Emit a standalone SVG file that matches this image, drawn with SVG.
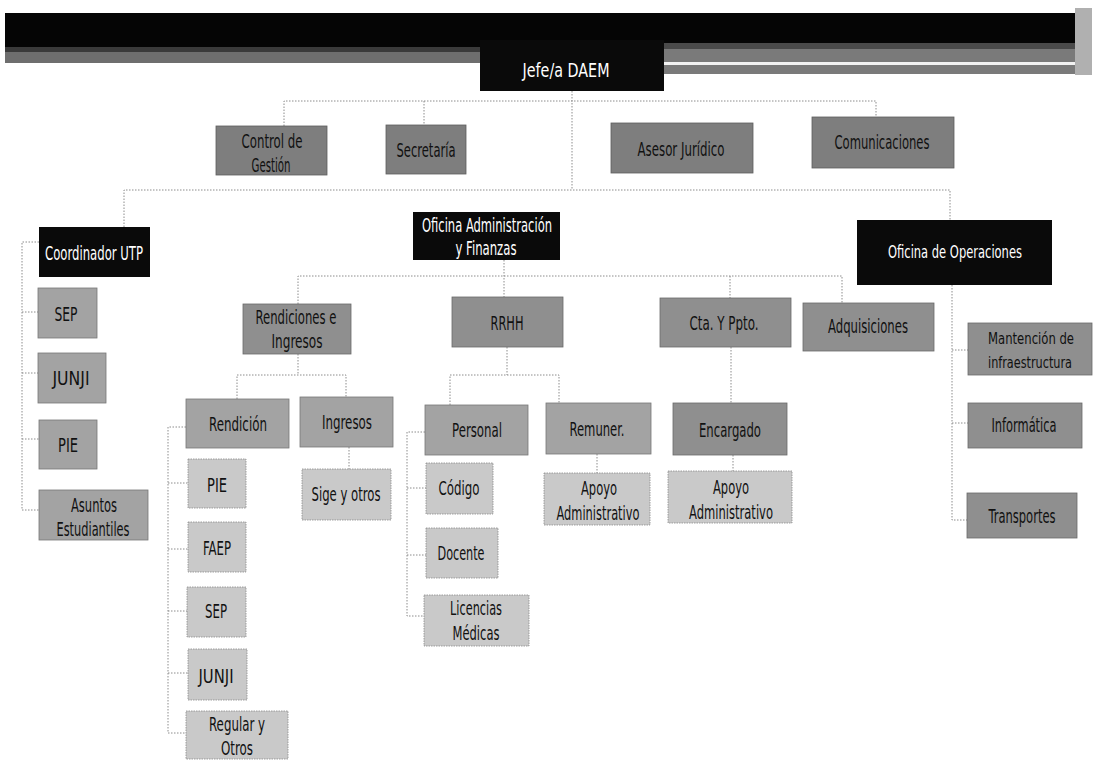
<svg xmlns="http://www.w3.org/2000/svg" width="1094" height="760" viewBox="0 0 1094 760">
<style>
text{font-family:"DejaVu Sans Condensed","Liberation Sans Narrow","Liberation Sans",sans-serif;font-size:20px;text-anchor:middle}
.k{fill:#0a0a0a}
.kt{fill:#ffffff}
.t{fill:#111111}
.s17{font-size:17px}
.s16{font-size:16px}
.g1{fill:#7e7e7e;stroke:#5e5e5e;stroke-width:0.8}
.g2{fill:#8f8f8f;stroke:#6a6a6a;stroke-width:0.8}
.g3{fill:#a3a3a3;stroke:#777;stroke-width:0.8}
.g4{fill:#c9c9c9;stroke:#8a8a8a;stroke-width:0.8;stroke-dasharray:1.5 1}
#connectors path{fill:none;stroke:#8c8c8c;stroke-width:1;stroke-dasharray:1.5 1.5}
</style>
<rect width="1094" height="760" fill="#ffffff"/>
<g id="banner">
<rect x="5" y="13" width="1087" height="37" fill="#050505"/>
<rect x="5" y="47" width="475" height="16" fill="#6e6e6e"/>
<rect x="5" y="47" width="475" height="5" fill="#3a3a3a"/>
<rect x="664" y="43" width="411" height="31" fill="#7a7a7a"/>
<rect x="664" y="43" width="411" height="6" fill="#4a4a4a"/>
<rect x="664" y="62" width="411" height="3" fill="#f2f2f2"/>
<rect x="1075" y="8" width="17" height="67" fill="#b0b0b0"/>
</g>
<g id="connectors">
<path d="M572 91V190"/>
<path d="M284 126V101H876V117"/>
<path d="M424 101V125"/>
<path d="M124 227V190H950V220"/>
<path d="M39 242H22V510H39M22 312H38M22 373H38M22 439H39"/>
<path d="M504 260V297"/>
<path d="M298 304V276H842V303M730 276V298"/>
<path d="M298 354V375M237 399V375H346V397"/>
<path d="M186 427H168V733H186M168 483H188M168 549H188M168 611H187M168 673H188"/>
<path d="M349 447V469"/>
<path d="M507 347V375M450 405V375H559V403"/>
<path d="M425 432H407V616H424M407 488H426M407 555H426"/>
<path d="M597 454V473"/>
<path d="M731 347V403"/>
<path d="M733 455V471"/>
<path d="M952 285V520H967M952 350H968M952 423H968"/>
</g>
<g id="n-jefe"><rect class="k" x="480" y="40" width="184" height="51"/><text class="kt" x="566" y="77" textLength="87" lengthAdjust="spacingAndGlyphs">Jefe/a DAEM</text></g>
<g id="n-control"><rect class="g1" x="216" y="126" width="111" height="49"/><text class="t" x="272" y="148" textLength="61" lengthAdjust="spacingAndGlyphs">Control de</text><text class="t" x="271" y="172" textLength="39" lengthAdjust="spacingAndGlyphs">Gestión</text></g>
<g id="n-secretaria"><rect class="g1" x="386" y="125" width="80" height="49"/><text class="t" x="426" y="157" textLength="59" lengthAdjust="spacingAndGlyphs">Secretaría</text></g>
<g id="n-asesor"><rect class="g1" x="611" y="123" width="142" height="50"/><text class="t" x="681" y="156" textLength="87" lengthAdjust="spacingAndGlyphs">Asesor Jurídico</text></g>
<g id="n-comunicaciones"><rect class="g1" x="812" y="117" width="142" height="51"/><text class="t" x="882" y="149" textLength="95" lengthAdjust="spacingAndGlyphs">Comunicaciones</text></g>
<g id="n-coordinador"><rect class="k" x="39" y="227" width="111" height="50"/><text class="kt" x="94" y="260" textLength="98" lengthAdjust="spacingAndGlyphs">Coordinador UTP</text></g>
<g id="n-sep-utp"><rect class="g3" x="38" y="288" width="59" height="50"/><text class="t" x="66" y="321" textLength="23" lengthAdjust="spacingAndGlyphs">SEP</text></g>
<g id="n-junji-utp"><rect class="g3" x="38" y="353" width="68" height="50"/><text class="t" x="71" y="385" textLength="37" lengthAdjust="spacingAndGlyphs">JUNJI</text></g>
<g id="n-pie-utp"><rect class="g3" x="39" y="420" width="58" height="49"/><text class="t" x="68" y="452" textLength="20" lengthAdjust="spacingAndGlyphs">PIE</text></g>
<g id="n-asuntos"><rect class="g3" x="39" y="490" width="109" height="50"/><text class="t" x="94" y="512" textLength="46" lengthAdjust="spacingAndGlyphs">Asuntos</text><text class="t" x="93" y="536" textLength="73" lengthAdjust="spacingAndGlyphs">Estudiantiles</text></g>
<g id="n-admin"><rect class="k" x="413" y="212" width="147" height="48"/><text class="kt" x="487" y="232" textLength="130" lengthAdjust="spacingAndGlyphs">Oficina Administración</text><text class="kt" x="486" y="255" textLength="61" lengthAdjust="spacingAndGlyphs">y Finanzas</text></g>
<g id="n-operaciones"><rect class="k" x="857" y="220" width="195" height="65"/><text class="kt s17" x="955" y="258" textLength="134" lengthAdjust="spacingAndGlyphs">Oficina de Operaciones</text></g>
<g id="n-rendiciones"><rect class="g2" x="243" y="304" width="108" height="50"/><text class="t" x="296" y="324" textLength="81" lengthAdjust="spacingAndGlyphs">Rendiciones e</text><text class="t" x="297" y="348" textLength="51" lengthAdjust="spacingAndGlyphs">Ingresos</text></g>
<g id="n-rrhh"><rect class="g2" x="452" y="297" width="111" height="50"/><text class="t" x="507" y="330" textLength="33" lengthAdjust="spacingAndGlyphs">RRHH</text></g>
<g id="n-cta"><rect class="g2" x="660" y="298" width="131" height="49"/><text class="t" x="724" y="330" textLength="69" lengthAdjust="spacingAndGlyphs">Cta. Y Ppto.</text></g>
<g id="n-adquisiciones"><rect class="g2" x="803" y="303" width="131" height="48"/><text class="t" x="868" y="333" textLength="80" lengthAdjust="spacingAndGlyphs">Adquisiciones</text></g>
<g id="n-mantencion"><rect class="g2" x="968" y="323" width="124" height="52"/><text class="t s16" x="1031" y="344" textLength="86" lengthAdjust="spacingAndGlyphs">Mantención de</text><text class="t s16" x="1030" y="368" textLength="84" lengthAdjust="spacingAndGlyphs">infraestructura</text></g>
<g id="n-informatica"><rect class="g2" x="968" y="403" width="114" height="45"/><text class="t" x="1024" y="432" textLength="65" lengthAdjust="spacingAndGlyphs">Informática</text></g>
<g id="n-transportes"><rect class="g2" x="967" y="493" width="110" height="45"/><text class="t" x="1022" y="523" textLength="67" lengthAdjust="spacingAndGlyphs">Transportes</text></g>
<g id="n-rendicion"><rect class="g3" x="186" y="399" width="103" height="49"/><text class="t" x="238" y="431" textLength="58" lengthAdjust="spacingAndGlyphs">Rendición</text></g>
<g id="n-ingresos"><rect class="g3" x="300" y="397" width="93" height="50"/><text class="t" x="347" y="429" textLength="50" lengthAdjust="spacingAndGlyphs">Ingresos</text></g>
<g id="n-personal"><rect class="g3" x="425" y="405" width="103" height="50"/><text class="t" x="477" y="437" textLength="50" lengthAdjust="spacingAndGlyphs">Personal</text></g>
<g id="n-remuner"><rect class="g3" x="546" y="403" width="105" height="51"/><text class="t" x="597" y="436" textLength="55" lengthAdjust="spacingAndGlyphs">Remuner.</text></g>
<g id="n-encargado"><rect class="g2" x="673" y="403" width="114" height="52"/><text class="t" x="730" y="437" textLength="62" lengthAdjust="spacingAndGlyphs">Encargado</text></g>
<g id="n-pie"><rect class="g4" x="188" y="459" width="58" height="49"/><text class="t" x="217" y="492" textLength="20" lengthAdjust="spacingAndGlyphs">PIE</text></g>
<g id="n-faep"><rect class="g4" x="188" y="522" width="58" height="50"/><text class="t" x="217" y="555" textLength="28" lengthAdjust="spacingAndGlyphs">FAEP</text></g>
<g id="n-sep"><rect class="g4" x="187" y="587" width="59" height="50"/><text class="t" x="216" y="618" textLength="22" lengthAdjust="spacingAndGlyphs">SEP</text></g>
<g id="n-junji"><rect class="g4" x="188" y="649" width="59" height="51"/><text class="t" x="216" y="683" textLength="35" lengthAdjust="spacingAndGlyphs">JUNJI</text></g>
<g id="n-regular"><rect class="g4" x="186" y="711" width="102" height="48"/><text class="t" x="237" y="731" textLength="56" lengthAdjust="spacingAndGlyphs">Regular y</text><text class="t" x="237" y="755" textLength="32" lengthAdjust="spacingAndGlyphs">Otros</text></g>
<g id="n-sige"><rect class="g4" x="302" y="469" width="89" height="51"/><text class="t" x="346" y="501" textLength="69" lengthAdjust="spacingAndGlyphs">Sige y otros</text></g>
<g id="n-codigo"><rect class="g4" x="426" y="463" width="67" height="51"/><text class="t" x="459" y="495" textLength="41" lengthAdjust="spacingAndGlyphs">Código</text></g>
<g id="n-docente"><rect class="g4" x="426" y="528" width="72" height="50"/><text class="t" x="461" y="560" textLength="47" lengthAdjust="spacingAndGlyphs">Docente</text></g>
<g id="n-licencias"><rect class="g4" x="424" y="595" width="105" height="51"/><text class="t" x="476" y="615" textLength="52" lengthAdjust="spacingAndGlyphs">Licencias</text><text class="t" x="476" y="640" textLength="47" lengthAdjust="spacingAndGlyphs">Médicas</text></g>
<g id="n-apoyo1"><rect class="g4" x="544" y="473" width="106" height="52"/><text class="t" x="599" y="495" textLength="36" lengthAdjust="spacingAndGlyphs">Apoyo</text><text class="t" x="598" y="520" textLength="83" lengthAdjust="spacingAndGlyphs">Administrativo</text></g>
<g id="n-apoyo2"><rect class="g4" x="668" y="471" width="124" height="52"/><text class="t" x="731" y="494" textLength="36" lengthAdjust="spacingAndGlyphs">Apoyo</text><text class="t" x="731" y="519" textLength="84" lengthAdjust="spacingAndGlyphs">Administrativo</text></g>
</svg>
